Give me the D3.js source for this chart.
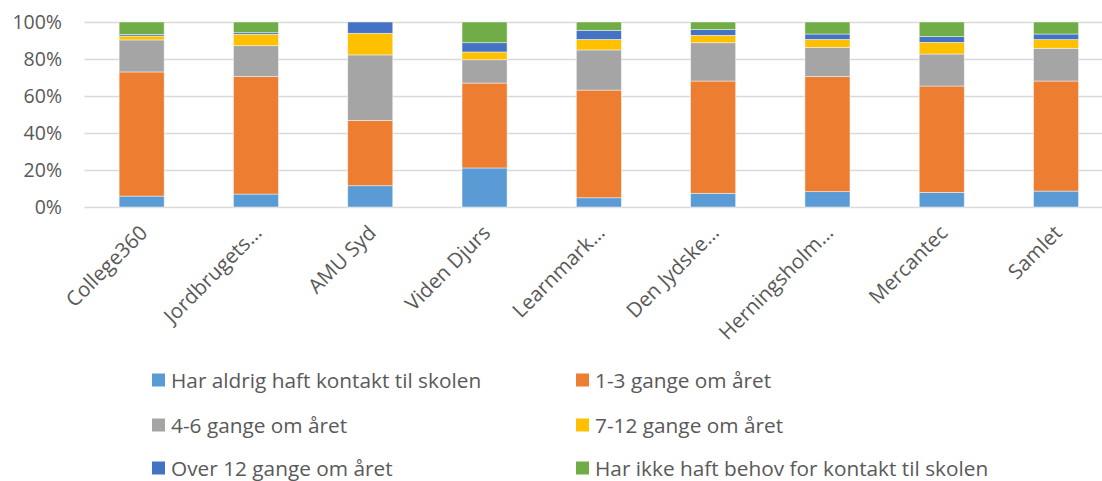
<!DOCTYPE html>
<html>
<head>
<meta charset="utf-8">
<script src="https://cdn.jsdelivr.net/npm/d3@7"></script>
<style>
  body { margin: 0; background: #fff; }
  svg text { font-family: "Open Sans", sans-serif; fill: #595959; }
</style>
</head>
<body>
<div id="chart"></div>
<script>
// skoler
var categories = ["College360", "Jordbrugets…", "AMU Syd", "Viden Djurs", "Learnmark…",
    "Den Jydske…", "Herningsholm…", "Mercantec", "Samlet"];

var seriesNames = [
    "Har aldrig haft kontakt til skolen",
    "1-3 gange om året",
    "4-6 gange om året",
    "7-12 gange om året",
    "Over 12 gange om året",
    "Har ikke haft behov for kontakt til skolen"
];

var colors = ["#5B9BD5", "#ED7D31", "#A5A5A5", "#FFC000", "#4472C4", "#70AD47"];

// procent pr. serie, samme rækkefølge som categories
var aldrig   = [5.9, 7.0, 11.5, 21.1, 5.0, 7.4, 8.3, 7.9, 8.6];
var g1_3     = [67.1, 63.5, 35.3, 45.9, 58.2, 60.7, 62.2, 57.5, 59.5];
var g4_6     = [17.3, 16.7, 35.4, 12.6, 21.7, 20.7, 15.8, 17.3, 17.7];
var g7_12    = [2.1, 6.1, 11.7, 4.2, 5.7, 4.0, 4.3, 6.3, 4.7];
var over12   = [0.8, 0.9, 6.1, 5.0, 4.9, 3.1, 2.9, 3.1, 3.0];
var ikkeBehov = [6.8, 5.8, 0.0, 11.2, 4.5, 4.1, 6.5, 7.9, 6.5];

var yTicks = [0, 20, 40, 60, 80, 100];

var seriesValues = [aldrig, g1_3, g4_6, g7_12, over12, ikkeBehov];

var width = 1102, height = 481;
var margin = {top: 22, left: 84.5, bottom: 274};
var plotW = 9 * 114.3;

var rows = categories.map(function (c, i) {
    var r = {name: c};
    seriesNames.forEach(function (s, j) { r[s] = seriesValues[j][i]; });
    return r;
});

var stack = d3.stack().keys(seriesNames)
    .offset(d3.stackOffsetExpand);
var layers = stack(rows);

var x = d3.scaleBand()
    .domain(categories)
    .range([margin.left, margin.left + plotW])
    .paddingInner(0.606)
    .paddingOuter(0.303);

var y = d3.scaleLinear()
    .domain([0, 1])
    .range([height - margin.bottom, margin.top]);

var svg = d3.select("#chart").append("svg")
    .attr("width", width)
    .attr("height", height);

// gridlines
svg.append("g")
    .selectAll("line")
    .data(yTicks)
    .enter().append("line")
    .attr("x1", margin.left)
    .attr("x2", width)
    .attr("y1", function (d) { return Math.round(y(d / 100)) + 0.5; })
    .attr("y2", function (d) { return Math.round(y(d / 100)) + 0.5; })
    .attr("stroke", "#D9D9D9")
    .attr("stroke-width", 1.5);

// y labels
svg.append("g")
    .selectAll("text")
    .data(yTicks)
    .enter().append("text")
    .attr("x", 62)
    .attr("y", function (d) { return y(d / 100); })
    .attr("dy", "0.36em")
    .attr("text-anchor", "end")
    .style("font-size", "19.5px")
    .text(function (d) { return d + "%"; });

// bars
svg.append("g")
    .selectAll("g")
    .data(layers)
    .enter().append("g")
    .attr("fill", function (d, i) { return colors[i]; })
    .selectAll("rect")
    .data(function (d) { return d; })
    .enter().append("rect")
    .attr("x", function (d) { return x(d.data.name); })
    .attr("width", x.bandwidth())
    .attr("y", function (d) { return y(d[1]); })
    .attr("height", function (d) { return Math.max(0, y(d[0]) - y(d[1])); })
    .attr("stroke", "#fff")
    .attr("stroke-opacity", 0.6)
    .attr("stroke-width", 0.75);

// category labels, rotated
svg.append("g")
    .selectAll("text")
    .data(categories)
    .enter().append("text")
    .attr("transform", function (d) {
        return "translate(" + (x(d) + x.bandwidth() / 2 + 2) + "," + (height - margin.bottom + 22) + ") rotate(-45)";
    })
    .attr("text-anchor", "end")
    .attr("dy", "0.35em")
    .style("font-size", "20.5px")
    .text(function (d) { return d; });

// legend
var legendPos = [[152, 380], [576, 380], [152, 425], [576, 425], [152, 468], [576, 468]];
var legend = svg.append("g")
    .selectAll("g")
    .data(seriesNames)
    .enter().append("g")
    .attr("transform", function (d, i) { return "translate(" + legendPos[i][0] + "," + legendPos[i][1] + ")"; });

legend.append("rect")
    .attr("x", 0)
    .attr("y", -6.5)
    .attr("width", 13)
    .attr("height", 13)
    .attr("fill", function (d, i) { return colors[i]; });

legend.append("text")
    .attr("x", 19)
    .attr("dy", "0.36em")
    .style("font-size", "20.8px")
    .text(function (d) { return d; });
</script>
</body>
</html>
